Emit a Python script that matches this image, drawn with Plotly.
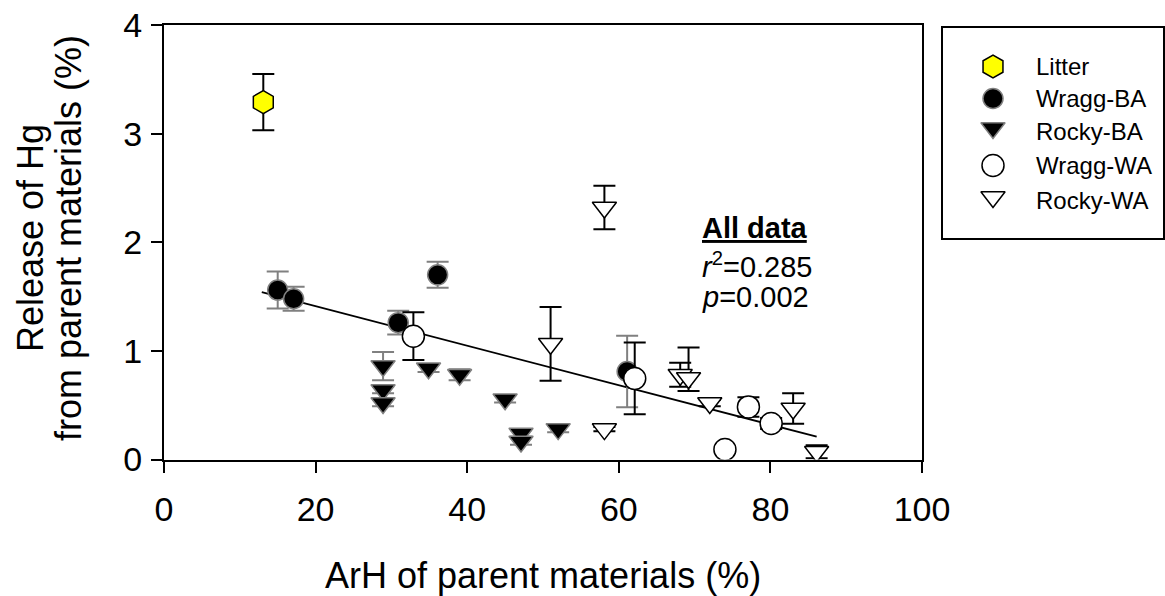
import plotly.graph_objects as go

# ---------------- data ----------------
litter_x = [13.1]
litter_y = [3.29]
litter_err = [0.26]

wba_x = [15.0, 17.1, 30.9, 36.1, 61.1]
wba_y = [1.56, 1.48, 1.26, 1.70, 0.81]
wba_err = [0.17, 0.11, 0.11, 0.12, 0.33]

rba_x = [28.9, 28.9, 28.9, 34.9, 39.0, 45.0, 47.1, 47.1, 52.0]
rba_y = [0.86, 0.64, 0.52, 0.84, 0.78, 0.555, 0.24, 0.165, 0.28]
rba_err = [0.13, 0.03, 0.03, 0.035, 0.05, 0.03, 0.03, 0.03, 0.03]

wwa_x = [32.9, 62.1, 77.1, 80.1, 74.0]
wwa_y = [1.135, 0.746, 0.484, 0.331, 0.092]
wwa_err = [0.22, 0.33, 0.09, 0.05, 0.03]

rwa_x = [51.0, 58.1, 58.1, 68.1, 69.2, 72.0, 83.0, 86.1]
rwa_y = [1.065, 2.32, 0.28, 0.78, 0.75, 0.52, 0.47, 0.072]
rwa_err_plus = [0.34, 0.20, 0.02, 0.11, 0.28, 0.03, 0.14, 0.06]
rwa_err_minus = [0.34, 0.20, 0.02, 0.11, 0.12, 0.03, 0.14, 0.06]

fit_x = [12.9, 86.1]
fit_y = [1.54, 0.21]

series_names = ["Litter", "Wragg-BA", "Rocky-BA", "Wragg-WA", "Rocky-WA"]
x_ticks = [0, 20, 40, 60, 80, 100]
y_ticks = [0, 1, 2, 3, 4]

FONT = "Liberation Sans, Arial, sans-serif"
GREY = "#808080"

W, H = 1165, 596
# plot area in pixels
PL, PR, PT, PB = 164, 922, 25, 459.5
# legend box in pixels
LL, LR, LT, LB = 943, 1163, 28, 238

fig = go.Figure()

styles = [
    dict(symbol="hexagon", size=23, color="#FFFF00", line=dict(color="black", width=1.5)),
    dict(symbol="circle", size=20, color="black", line=dict(color=GREY, width=1.5)),
    dict(symbol="triangle-down", size=21, color="black", line=dict(color=GREY, width=1.5)),
    dict(symbol="circle", size=22, color="white", line=dict(color="black", width=1.5)),
    dict(symbol="triangle-down", size=21, color="white", line=dict(color="black", width=1.5)),
]

# fit line
fig.add_trace(go.Scatter(x=fit_x, y=fit_y, mode="lines",
                         line=dict(color="black", width=1.8), showlegend=False,
                         hoverinfo="skip"))

data = [
    (litter_x, litter_y, dict(type="data", array=litter_err, color="black", thickness=2, width=11)),
    (wba_x, wba_y, dict(type="data", array=wba_err, color=GREY, thickness=2, width=11)),
    (rba_x, rba_y, dict(type="data", array=rba_err, color=GREY, thickness=2, width=11)),
    (wwa_x, wwa_y, dict(type="data", array=wwa_err, color="black", thickness=2, width=11)),
    (rwa_x, rwa_y, dict(type="data", array=rwa_err_plus, arrayminus=rwa_err_minus,
                        symmetric=False, color="black", thickness=2, width=11)),
]
for (xs, ys, err), st, name in zip(data, styles, series_names):
    fig.add_trace(go.Scatter(x=xs, y=ys, mode="markers", name=name,
                             marker=st, error_y=err, showlegend=False))

# manual legend markers (on a secondary axis in pixel units)
leg_rows = [66.5, 98.5, 131, 165.5, 200]
leg_marker_y = [66.5, 98.5, 128, 165.5, 197]
for st, name, yy in zip(styles, series_names, leg_marker_y):
    fig.add_trace(go.Scatter(x=[993], y=[yy], mode="markers", marker=st,
                             xaxis="x2", yaxis="y2", showlegend=False,
                             hoverinfo="skip"))
for name, yy in zip(series_names, leg_rows):
    fig.add_annotation(x=1034, y=yy, xref="x2", yref="y2", text=name,
                       showarrow=False, xanchor="left", yanchor="middle",
                       font=dict(family=FONT, size=24, color="black"))

# statistics annotation
fig.add_annotation(x=70.7, y=2.13, xref="x", yref="y", text="<u><b>All data</b></u>",
                   showarrow=False, xanchor="left", yanchor="middle",
                   font=dict(family=FONT, size=29, color="black"))
fig.add_annotation(x=70.7, y=1.79, xref="x", yref="y", text="<i>r</i><sup>2</sup>=0.285",
                   showarrow=False, xanchor="left", yanchor="middle",
                   font=dict(family=FONT, size=29, color="black"))
fig.add_annotation(x=70.7, y=1.50, xref="x", yref="y", text="<i>p</i>=0.002",
                   showarrow=False, xanchor="left", yanchor="middle",
                   font=dict(family=FONT, size=29, color="black"))

# axis titles
fig.add_annotation(x=(PL + PR) / 2 / W, y=1 - 575 / H, xref="paper", yref="paper",
                   text="ArH of parent materials (%)", showarrow=False,
                   xanchor="center", yanchor="middle",
                   font=dict(family=FONT, size=36, color="black"))
fig.add_annotation(x=30 / W, y=1 - 238 / H, xref="paper", yref="paper",
                   text="Release of Hg", showarrow=False, textangle=-90,
                   xanchor="center", yanchor="middle",
                   font=dict(family=FONT, size=36, color="black"))
fig.add_annotation(x=68 / W, y=1 - 238 / H, xref="paper", yref="paper",
                   text="from parent materials (%)", showarrow=False, textangle=-90,
                   xanchor="center", yanchor="middle",
                   font=dict(family=FONT, size=36, color="black"))

axis_common = dict(showgrid=False, zeroline=False, automargin=False)

fig.update_layout(
    width=W, height=H,
    autosize=False,
    margin=dict(l=0, r=0, t=0, b=0, pad=0, autoexpand=False),
    paper_bgcolor="white", plot_bgcolor="white",
    showlegend=False,
    font=dict(family=FONT, color="black"),
    xaxis=dict(domain=[PL / W, PR / W], range=[0, 100], tickvals=x_ticks,
               ticktext=[str(v) for v in x_ticks],
               showline=True, mirror=True,
               linecolor="black", linewidth=2, ticks="outside", ticklen=11,
               tickwidth=2, tickcolor="black",
               tickfont=dict(family=FONT, size=34, color="black"),
               ticklabelstandoff=8, **axis_common),
    yaxis=dict(domain=[1 - PB / H, 1 - PT / H], range=[0, 4], tickvals=y_ticks,
               ticktext=[str(v) for v in y_ticks],
               showline=True, mirror=True,
               linecolor="black", linewidth=2, ticks="outside", ticklen=11,
               tickwidth=2, tickcolor="black",
               tickfont=dict(family=FONT, size=34, color="black"),
               ticklabelstandoff=2, **axis_common),
    xaxis2=dict(domain=[LL / W, LR / W], range=[LL, LR], anchor="y2",
                showticklabels=False, ticks="",
                showline=True, mirror=True, linecolor="black", linewidth=1.5,
                **axis_common),
    yaxis2=dict(domain=[1 - LB / H, 1 - LT / H], range=[LB, LT], anchor="x2",
                showticklabels=False, ticks="",
                showline=True, mirror=True, linecolor="black", linewidth=1.5,
                **axis_common),
)

fig.write_html("out.html")
